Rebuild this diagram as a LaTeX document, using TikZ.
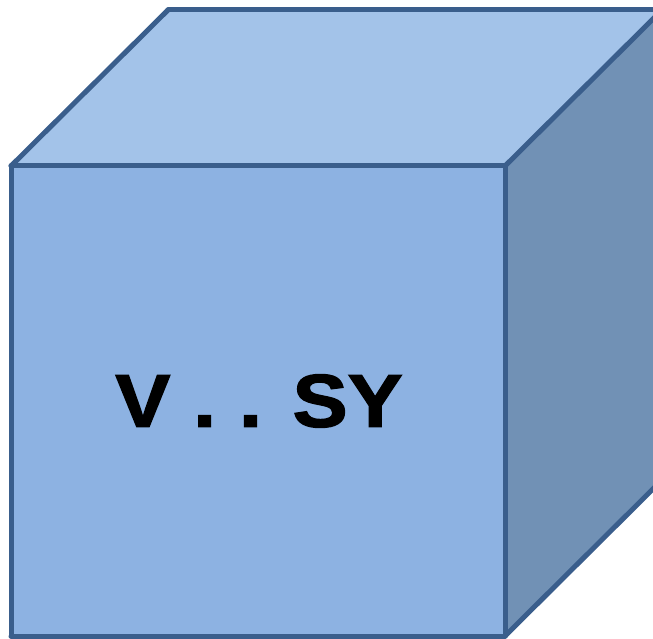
\documentclass[tikz,border=0pt]{standalone}
\usepackage{fontspec}
\setmainfont{Liberation Sans}
\newfontfamily\heavyfont[FakeBold=1.8]{Liberation Sans Bold}
\usepackage{tkz-euclide}
\definecolor{FrontClr}{RGB}{141,178,226}
\definecolor{TopClr}{RGB}{163,195,233}
\definecolor{SideClr}{RGB}{113,145,181}
\definecolor{EdgeClr}{RGB}{58,94,140}

\begin{document}
\begin{tikzpicture}[x=1pt,y=1pt]
\useasboundingbox (0,0) rectangle (653,638);
\clip (0,0) rectangle (653,638);
\tkzDefPoint(11,472){A}
\tkzDefPoint(505,472){B}
\tkzDefPoint(505,2){C}
\tkzDefPoint(11,2){D}
\tkzDefPoint(168,628){E}
\tkzDefPoint(662,628){F}
\tkzDefPoint(662,158){G}


\tkzFillPolygon[fill=TopClr](A,B,F,E)
\tkzFillPolygon[fill=SideClr](B,F,G,C)
\tkzFillPolygon[fill=FrontClr](A,B,C,D)

\tkzDrawSegments[line width=5pt,color=EdgeClr,line join=miter](A,B B,C C,D D,A A,E E,F B,F F,G G,C)

\node[font=\fontsize{75}{80}\heavyfont,xscale=1.1] (lbl) at (259,237) {V . . SY};
\end{tikzpicture}
\end{document}
